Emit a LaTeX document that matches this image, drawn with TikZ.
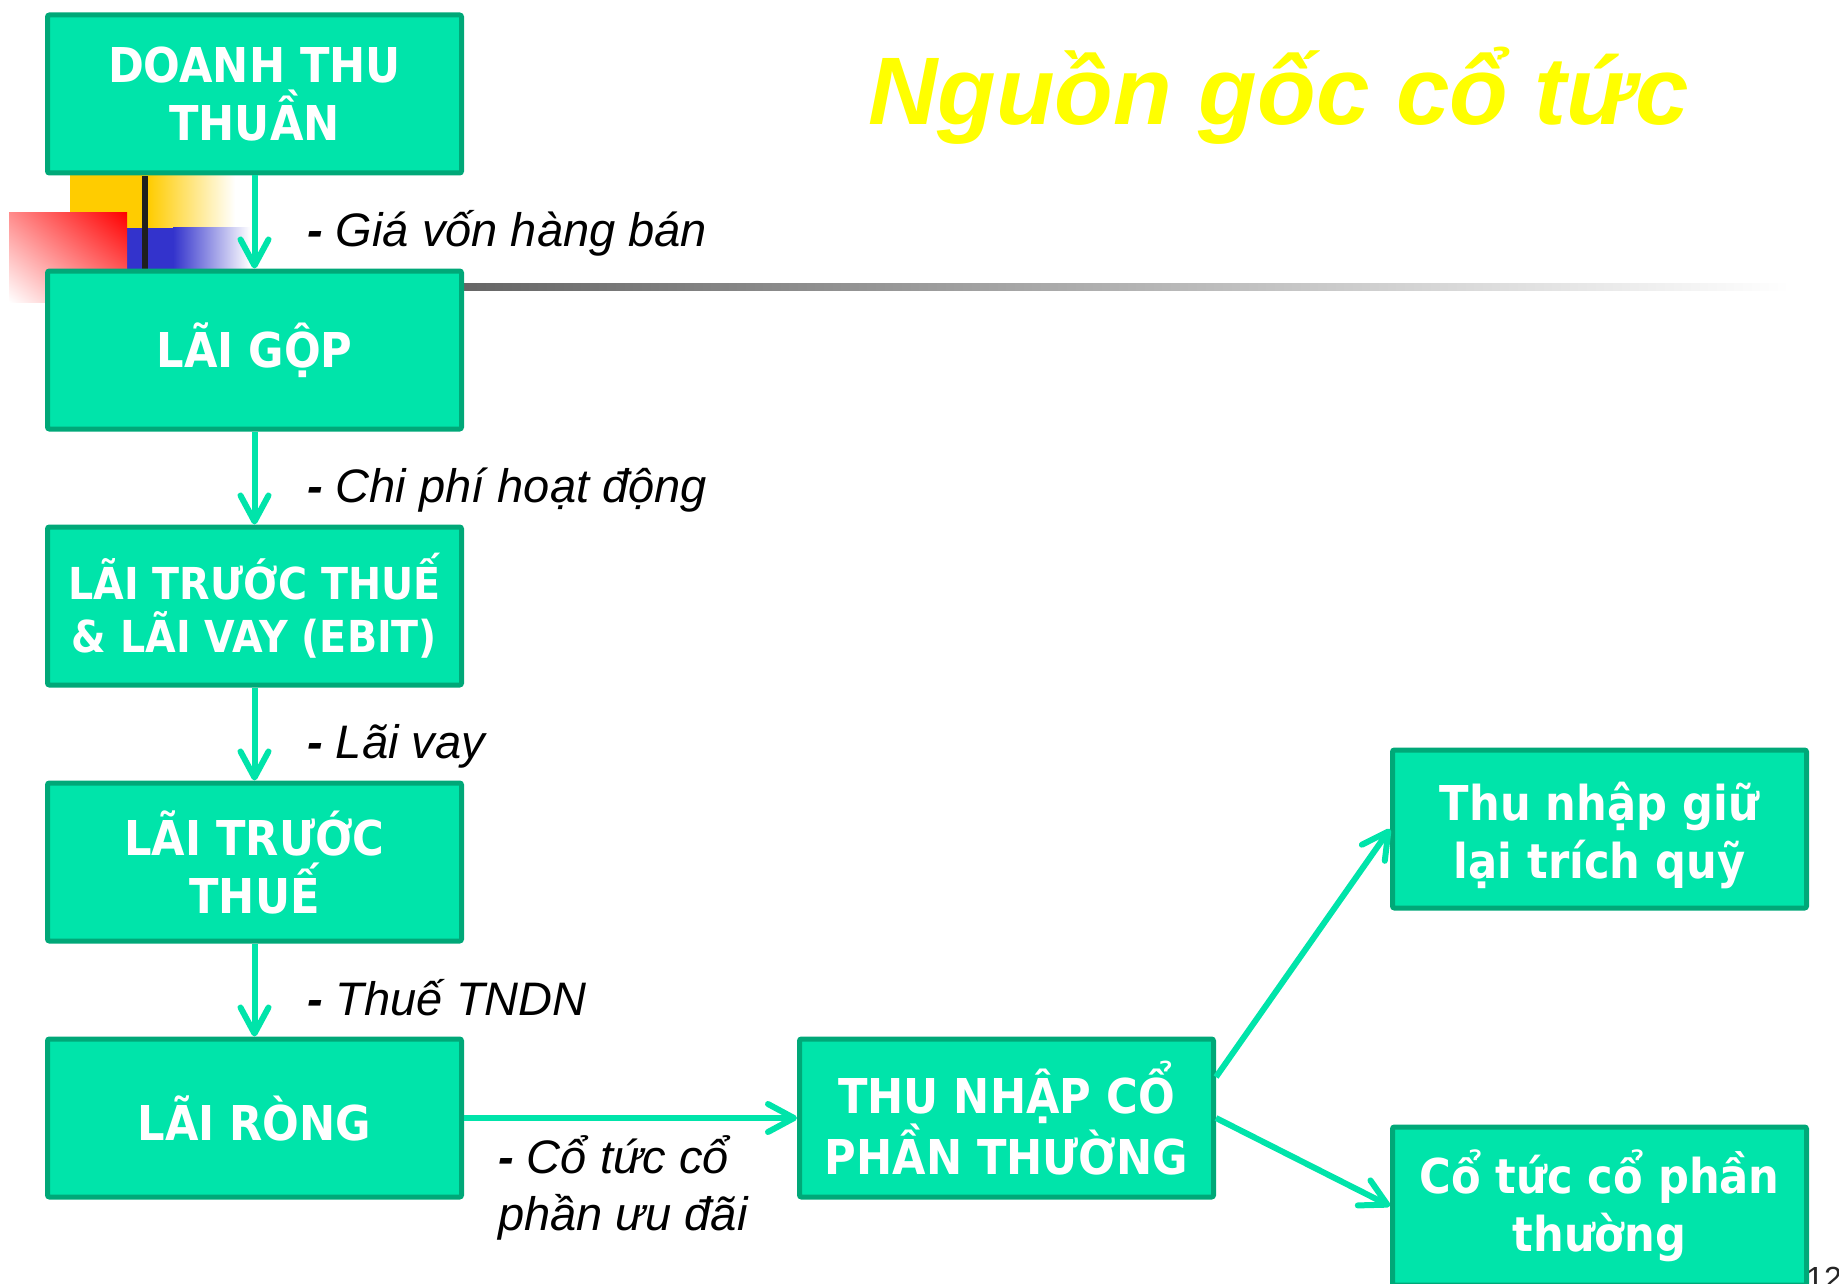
\documentclass[tikz,border=0pt]{standalone}
\usepackage{fontspec}
\setmainfont{Liberation Sans}
\newfontfamily\boxfont[FakeStretch=0.9]{DejaVu Sans}
\usetikzlibrary{positioning, arrows.meta, shadings}

\definecolor{boxgreen}{RGB}{0,228,170}
\definecolor{rimgreen}{RGB}{0,168,120}
\definecolor{decoyellow}{RGB}{255,204,0}
\definecolor{decoblue}{RGB}{51,51,204}
\definecolor{titleyellow}{RGB}{255,255,0}

\newcommand{\minus}{\textbf{-}}

\begin{document}
\begin{tikzpicture}[
    x=1pt, y=-1pt,
    node distance = 93pt and 333pt,
    %% ── node styles ──────────────────────────────────────────
    Gbox/.style = {draw=rimgreen, line width=5pt, fill=boxgreen, rounded corners=2pt,
                   align=center, text=white, inner sep=0pt,
                   minimum width=414pt, minimum height=158pt,
                   font=\boxfont\bfseries\fontsize{48}{58}\selectfont},
    lbl/.style  = {anchor=base west, align=left, inner sep=0pt,
                   font=\itshape\fontsize{47}{57}\selectfont},
    arr/.style  = {-{Straight Barb[length=26pt, width=28pt, round]},
                   line width=6pt, draw=boxgreen}
]
\useasboundingbox (0,0) rectangle (1839,1284);

%% ── corner ornament and rule ─────────────────────────────────
\fill[decoyellow] (70,150) rectangle (148,228);
\shade[left color=decoyellow, right color=white] (148,150) rectangle (235,228);
\fill[decoblue] (127,228) rectangle (173,269);
\shade[left color=decoblue, right color=white] (173,228) rectangle (250,269);
\shade[upper right=red, upper left=red!45, lower right=red!50, lower left=white]
    (9,213) rectangle (127,302);
\fill[black!88] (142,176) rectangle (148,269);
\shade[left color=black!60, right color=white] (464,283) rectangle (1790,290);

%% ── title ────────────────────────────────────────────────────
\node[anchor=base west, inner sep=0pt, text=titleyellow,
      font=\bfseries\itshape\fontsize{96}{110}\selectfont] (title) at (868,125)
    {Nguồn gốc cổ tức};

%% ── left column ──────────────────────────────────────────────
\node[Gbox] (dtt) at (254.5,94) {DOANH THU\\THUẦN};
\node[Gbox, below=of dtt]    (laigop) {LÃI GỘP};
\node[Gbox, below=of laigop,
      font=\boxfont\bfseries\fontsize{44}{53}\selectfont] (ebit)
    {LÃI TRƯỚC THUẾ\\\& LÃI VAY (EBIT)};
\node[Gbox, below=of ebit]   (ltt) {LÃI TRƯỚC\\THUẾ};
\node[Gbox, below=of ltt]    (lairong) {LÃI RÒNG};

%% ── split of common earnings ─────────────────────────────────
\node[Gbox, right=of lairong] (thu) {THU NHẬP CỔ\\PHẦN THƯỜNG};
\node[Gbox, right=174pt of thu, yshift=289pt] (giu)
    {\rule{0pt}{1.05em}Thu nhập giữ\\lại trích quỹ};
\node[Gbox, right=174pt of thu, yshift=-88pt] (cotuc) {Cổ tức cổ phần\\thường};

%% ── deductions ───────────────────────────────────────────────
\node[lbl] (gvhb) at (307,247)  {\minus{} Giá vốn hàng bán};
\node[lbl] (cphd) at (307,502)  {\minus{} Chi phí hoạt động};
\node[lbl] (lv)   at (307,758)  {\minus{} Lãi vay};
\node[lbl] (tndn) at (307,1015) {\minus{} Thuế TNDN};
\node[lbl] (ctud) at (498,1230) {\minus{} Cổ tức cổ\\phần ưu đãi};

%% ── arrows ───────────────────────────────────────────────────
\draw[arr] (dtt)    -- (laigop);
\draw[arr] (laigop) -- (ebit);
\draw[arr] (ebit)   -- (ltt);
\draw[arr] (ltt)    -- (lairong);
\draw[arr] (lairong) -- (thu);
\draw[arr] ([yshift=41pt]thu.east) -- (giu.west);
\draw[arr] (thu.east) -- (cotuc.west);

%% ── slide number ─────────────────────────────────────────────
\node[anchor=north west, inner sep=0pt, text=black!85,
      font=\fontsize{32}{36}\selectfont] (pgno) at (1806,1267) {12};

\end{tikzpicture}
\end{document}
